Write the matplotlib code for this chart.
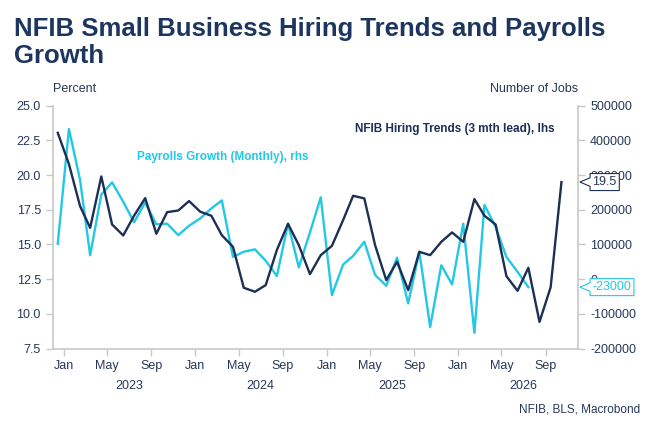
import pandas as pd
import matplotlib
matplotlib.use('Agg')
import matplotlib.pyplot as plt
import matplotlib.dates as mdates
import matplotlib.transforms as mtrans
from matplotlib.path import Path

plt.rcParams['font.family'] = ['Liberation Sans', 'DejaVu Sans']

# NFIB hiring plans (3 month lead), percent, monthly from Dec 2022
nfib = [23.05,
        20.8, 17.76, 16.2, 19.9, 16.44, 15.65, 17.07, 18.34, 15.77, 17.33, 17.45, 18.13,
        17.36, 17.07, 15.67, 14.83, 11.88, 11.59, 12.07, 14.6, 16.49, 14.95, 12.86, 14.23,
        14.9, 16.75, 18.51, 18.32, 14.95, 12.43, 13.75, 11.71, 14.47, 14.23, 15.19, 15.87,
        15.19, 18.27, 17.07, 16.44, 12.72, 11.66, 13.32, 9.42, 11.92, 19.5]

# payrolls growth (monthly change), number of jobs, from Dec 2022
payrolls = [102000,
            433000, 286000, 69000, 244000, 279000, 223000, 164000, 221000, 158000, 160000, 127000, 154000,
            175000, 204000, 227000, 64000, 79000, 86000, 53000, 9000, 160000, 34000, 135000, 236000,
            -46000, 42000, 67000, 108000, 12000, -19000, 62000, -70000, 79000, -138000, 40000, -15000,
            160000, -155000, 214000, 151000, 64000, 21000, -23000]

years = [2023, 2024, 2025, 2026]

navy = '#1c2f55'
cyan = '#22c8e4'
txt = '#263859'
spine = '#c8c8c8'


def tag_box(x0, y0, width, height, mutation_size):
    # box with a small pointer on the left side, like the value tags
    pad = 0.2 * mutation_size
    x0, y0 = x0 - pad, y0 - pad
    w, h = width + 2 * pad, height + 2 * pad
    cy = y0 + h / 2
    verts = [(x0, y0), (x0 + w, y0), (x0 + w, y0 + h), (x0, y0 + h),
             (x0, cy + h * 0.25), (x0 - h * 0.6, cy), (x0, cy - h * 0.25), (x0, y0)]
    return Path(verts, closed=True)


d1 = pd.date_range('2022-12-01', periods=len(nfib), freq='MS') + pd.Timedelta(days=14)
d2 = pd.date_range('2022-12-01', periods=len(payrolls), freq='MS') + pd.Timedelta(days=14)

fig = plt.figure(figsize=(6.55, 4.37), dpi=100)
ax = fig.add_axes([0.0805, 0.2025, 0.8025, 0.5555])
ax2 = ax.twinx()

ax2.plot(d2, payrolls, color=cyan, lw=1.7, zorder=2)
ax.plot(d1, nfib, color=navy, lw=1.7, zorder=3)
ax.set_zorder(ax2.get_zorder() + 1)
ax.patch.set_visible(False)

ax.set_xlim(pd.Timestamp('2022-12-01'), pd.Timestamp('2026-12-01'))
ax.set_ylim(7.5, 25)
ax2.set_ylim(-200000, 500000)
ax.set_yticks([7.5, 10, 12.5, 15, 17.5, 20, 22.5, 25])
ax.set_yticklabels(['%.1f' % v for v in ax.get_yticks()])
ax2.set_yticks(range(-200000, 500001, 100000))
ax2.set_yticklabels(['%d' % v for v in ax2.get_yticks()])

ax.xaxis.set_major_locator(mdates.MonthLocator(bymonth=[1, 5, 9]))
ax.xaxis.set_major_formatter(mdates.DateFormatter('%b'))

for a in (ax, ax2):
    for s in a.spines.values():
        s.set_visible(False)
ax.spines['left'].set_visible(True)
ax.spines['bottom'].set_visible(True)
ax2.spines['right'].set_visible(True)
for s in (ax.spines['left'], ax.spines['bottom'], ax2.spines['right']):
    s.set_color(spine)
    s.set_linewidth(1.2)

ax.tick_params(axis='both', colors=spine, labelcolor=txt, labelsize=9, length=5, width=1)
ax2.tick_params(axis='y', colors=spine, labelcolor=txt, labelsize=9, length=5, width=1)
ax.tick_params(axis='x', pad=3)

trans = mtrans.blended_transform_factory(ax.transData, ax.transAxes)
for y in years:
    ax.text(pd.Timestamp('%d-07-01' % y), -0.128, str(y), transform=trans,
            ha='center', va='top', fontsize=9, color=txt)

fig.text(0.021, 0.962, 'NFIB Small Business Hiring Trends and Payrolls\nGrowth',
         fontsize=18.5, fontweight='bold', color='#1c3660', ha='left', va='top',
         linespacing=1.2)
fig.text(0.0805, 0.796, 'Percent', fontsize=9, color=txt, ha='left', va='center')
fig.text(0.883, 0.796, 'Number of Jobs', fontsize=9, color=txt, ha='right', va='center')
fig.text(0.977, 0.062, 'NFIB, BLS, Macrobond', fontsize=8.5, color=txt, ha='right', va='center')

ax.text(0.161, 0.789, 'Payrolls Growth (Monthly), rhs', transform=ax.transAxes,
        fontsize=8.5, fontweight='bold', color=cyan, ha='left', va='center')
ax.text(0.575, 0.904, 'NFIB Hiring Trends (3 mth lead), lhs', transform=ax.transAxes,
        fontsize=8.5, fontweight='bold', color=navy, ha='left', va='center')

# last value tags on the right axis
t1 = mtrans.blended_transform_factory(ax.transAxes, ax.transData)
ax.text(1.027, nfib[-1], '%.1f' % nfib[-1], transform=t1, fontsize=9, color=txt,
        ha='left', va='center', clip_on=False,
        bbox=dict(boxstyle=tag_box, fc='white', ec=navy, lw=0.8))
t2 = mtrans.blended_transform_factory(ax2.transAxes, ax2.transData)
ax2.text(1.027, payrolls[-1], '%d' % payrolls[-1], transform=t2, fontsize=9, color=cyan,
         ha='left', va='center', clip_on=False,
         bbox=dict(boxstyle=tag_box, fc='white', ec=cyan, lw=0.8))

fig.savefig('out.png', dpi=100)
